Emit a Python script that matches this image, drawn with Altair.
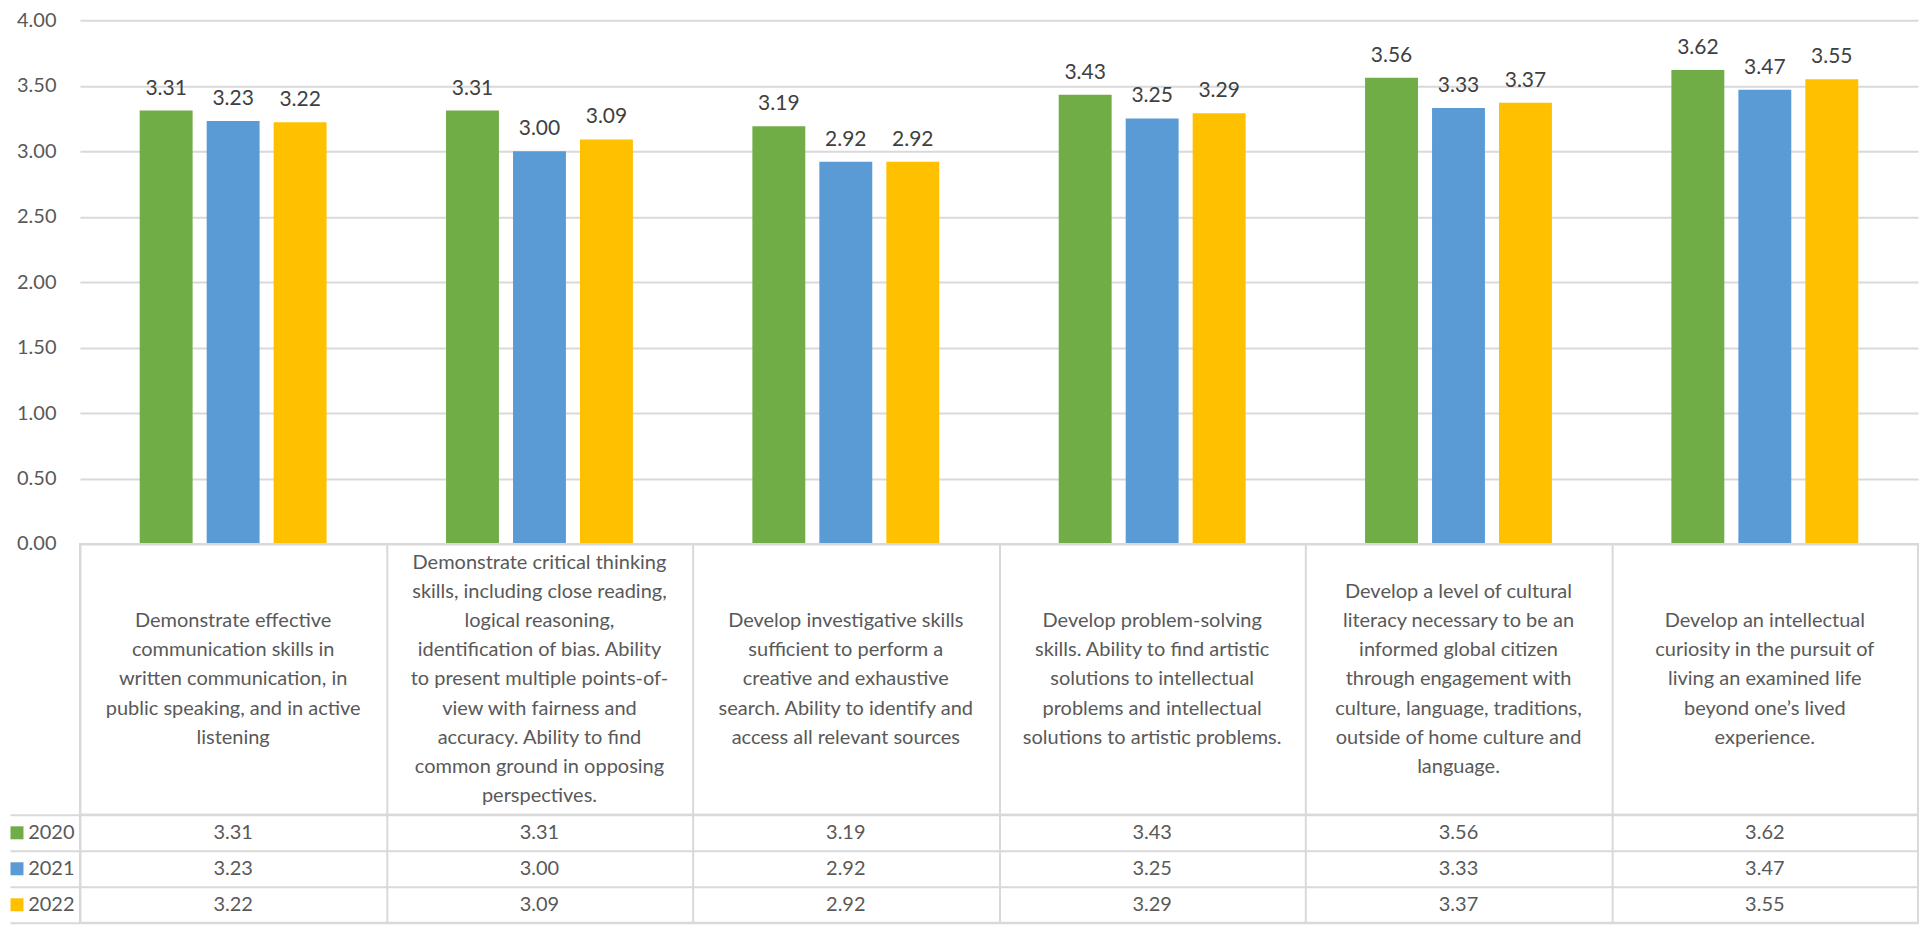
import altair as alt
import pandas as pd

# ---- data ----
categories = [
    "Demonstrate effective\ncommunication skills in\nwritten communication, in\npublic speaking, and in active\nlistening",
    "Demonstrate critical thinking\nskills, including close reading,\nlogical reasoning,\nidentification of bias. Ability\nto present multiple points-of-\nview with fairness and\naccuracy. Ability to find\ncommon ground in opposing\nperspectives.",
    "Develop investigative skills\nsufficient to perform a\ncreative and exhaustive\nsearch. Ability to identify and\naccess all relevant sources",
    "Develop problem-solving\nskills. Ability to find artistic\nsolutions to intellectual\nproblems and intellectual\nsolutions to artistic problems.",
    "Develop a level of cultural\nliteracy necessary to be an\ninformed global citizen\nthrough engagement with\nculture, language, traditions,\noutside of home culture and\nlanguage.",
    "Develop an intellectual\ncuriosity in the pursuit of\nliving an examined life\nbeyond one\u2019s lived\nexperience.",
]
years = ["2020", "2021", "2022"]
v2020 = [3.31, 3.31, 3.19, 3.43, 3.56, 3.62]
v2021 = [3.23, 3.00, 2.92, 3.25, 3.33, 3.47]
v2022 = [3.22, 3.09, 2.92, 3.29, 3.37, 3.55]
colors = ["#70AD47", "#5B9BD5", "#FFC000"]
y_ticks = [0, 0.5, 1.0, 1.5, 2.0, 2.5, 3.0, 3.5, 4.0]

rows = []
for yr, vals in zip(years, [v2020, v2021, v2022]):
    for c, v in zip(categories, vals):
        rows.append({"cat": c, "year": yr, "value": v})
df = pd.DataFrame(rows)

# header text split into one row per line, centred around 0
line_rows = []
for c in categories:
    parts = c.split("\n")
    n = len(parts)
    for i, p in enumerate(parts):
        line_rows.append({"cat": c, "line": p, "pos": (n - 1) / 2 - i})
lines_df = pd.DataFrame(line_rows)
year_df = pd.DataFrame({"year": years})

FONT = "Lato"
GRID = "#D9D9D9"
TXT = "#595959"
W = 1839
HEADER_H = 271
LINE_H = 29.2
half = HEADER_H / 2 / LINE_H

color_scale = alt.Scale(domain=years, range=colors)

# ---- bar chart ----
x_bar = alt.X("cat:N", sort=categories,
              scale=alt.Scale(domain=categories, paddingInner=0.39, paddingOuter=0.195),
              axis=None)
xoff = alt.XOffset("year:N", sort=years,
                   scale=alt.Scale(domain=years, paddingInner=0.21, paddingOuter=0))
y_bar = alt.Y("value:Q", scale=alt.Scale(domain=[0, 4], nice=False),
              axis=alt.Axis(values=y_ticks, format=".2f", title=None, domain=False,
                            ticks=False, labelPadding=24, labelFontSize=20,
                            labelColor=TXT, labelFont=FONT, gridColor=GRID,
                            gridWidth=2))

bars = alt.Chart(df).mark_bar().encode(
    x=x_bar, xOffset=xoff, y=y_bar,
    color=alt.Color("year:N", scale=color_scale, legend=None),
)
bar_labels = alt.Chart(df).mark_text(
    baseline="alphabetic", dy=-16, fontSize=21, font=FONT, color="#404040"
).encode(
    x=x_bar, xOffset=xoff, y=alt.Y("value:Q"),
    text=alt.Text("value:Q", format=".2f"),
)
top = alt.layer(bars, bar_labels).properties(width=W, height=524)

# ---- header cells ----
x_tab = alt.X("cat:N", sort=categories,
              scale=alt.Scale(domain=categories, paddingInner=0, paddingOuter=0),
              axis=alt.Axis(title=None, labels=False, ticks=False, domain=False,
                            grid=True, tickBand="extent", gridColor=GRID,
                            gridWidth=2))
cell_view = alt.ViewBackground(stroke=GRID, strokeWidth=2)

header = alt.Chart(lines_df).mark_text(
    fontSize=20, font=FONT, color=TXT, baseline="middle", align="center"
).encode(
    x=x_tab,
    y=alt.Y("pos:Q", scale=alt.Scale(domain=[-half, half], nice=False, zero=False),
            axis=None),
    text="line:N",
).properties(width=W, height=HEADER_H, view=cell_view)

# ---- data table ----
y_tab = alt.Y("year:N", sort=years,
              scale=alt.Scale(domain=years, paddingInner=0, paddingOuter=0),
              axis=alt.Axis(title=None, grid=True, tickBand="extent",
                            gridColor=GRID, gridWidth=2, ticks=True,
                            tickSize=70, tickColor=GRID, tickWidth=2,
                            domain=False, labelPadding=-64, labelAlign="right",
                            labelBaseline="middle", labelFontSize=20,
                            labelColor=TXT, labelFont=FONT))

table_text = alt.Chart(df).mark_text(
    fontSize=20, font=FONT, color=TXT, baseline="middle"
).encode(
    x=x_tab, y=y_tab, text=alt.Text("value:Q", format=".2f"),
)
squares = alt.Chart(year_df).mark_square(size=169, opacity=1).encode(
    x=alt.value(-63), y=alt.Y("year:N", sort=years),
    color=alt.Color("year:N", scale=color_scale, legend=None),
)
table = alt.layer(table_text, squares).properties(width=W, height=108, view=cell_view)

chart = alt.vconcat(top, header, table, spacing=0, bounds="flush").properties(
    padding={"left": 0, "top": 2, "right": 0, "bottom": 0}
).configure(font=FONT).configure_view(strokeWidth=0)

chart.save("out.html", embed_options={"renderer": "svg", "actions": False})
